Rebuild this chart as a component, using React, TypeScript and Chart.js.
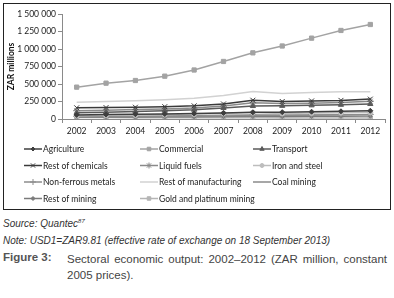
import React, { useEffect, useRef } from "react";
import { Chart, registerables } from "chart.js";
import { drawPoint } from "chart.js/helpers";

Chart.register(...registerables);

const years = ["2002", "2003", "2004", "2005", "2006", "2007", "2008", "2009", "2010", "2011", "2012"];

const agriculture = [58000, 63000, 68000, 72000, 78000, 86000, 95000, 98000, 104000, 110000, 118000];
const commercial = [455000, 512000, 550000, 612000, 700000, 822000, 945000, 1043000, 1155000, 1265000, 1350000];
const transport = [88000, 96000, 106000, 118000, 132000, 158000, 185000, 188000, 195000, 203000, 214000];
const restOfChemicals = [160000, 163000, 168000, 176000, 188000, 215000, 268000, 250000, 258000, 266000, 284000];
const liquidFuels = [118000, 124000, 134000, 144000, 158000, 185000, 232000, 220000, 226000, 236000, 254000];
const ironAndSteel = [48000, 53000, 58000, 64000, 72000, 82000, 92000, 80000, 86000, 90000, 95000];
const nonFerrousMetals = [38000, 40000, 43000, 46000, 50000, 55000, 60000, 57000, 60000, 63000, 66000];
const restOfManufacturing = [238000, 250000, 262000, 276000, 296000, 336000, 392000, 364000, 380000, 388000, 390000];
const coalMining = [30000, 32000, 34000, 36000, 39000, 43000, 50000, 52000, 54000, 56000, 60000];
const restOfMining = [24000, 26000, 27000, 29000, 31000, 33000, 36000, 34000, 36000, 38000, 40000];
const goldAndPlatinum = [20000, 20000, 19000, 19000, 18000, 18000, 17000, 16000, 16000, 16000, 15000];

const yTicks = [0, 250000, 500000, 750000, 1000000, 1250000, 1500000];

type S = { label: string; data: number[]; color: string; style: string | false; radius: number; width: number };

const series: S[] = [
  { label: "Agriculture", data: agriculture, color: "#3f3f3f", style: "rectRot", radius: 2.5, width: 1.5 },
  { label: "Commercial", data: commercial, color: "#a3a3a3", style: "rect", radius: 3, width: 1.5 },
  { label: "Transport", data: transport, color: "#5a5a5a", style: "triangle", radius: 3, width: 1.5 },
  { label: "Rest of chemicals", data: restOfChemicals, color: "#3a3a3a", style: "crossRot", radius: 3.5, width: 1.5 },
  { label: "Liquid fuels", data: liquidFuels, color: "#8a8a8a", style: "star", radius: 3.5, width: 1.5 },
  { label: "Iron and steel", data: ironAndSteel, color: "#bdbdbd", style: "circle", radius: 2.5, width: 1.5 },
  { label: "Non-ferrous metals", data: nonFerrousMetals, color: "#8c8c8c", style: "cross", radius: 3.5, width: 1.2 },
  { label: "Rest of manufacturing", data: restOfManufacturing, color: "#d2d2d2", style: false, radius: 0, width: 1.5 },
  { label: "Coal mining", data: coalMining, color: "#8a8a8a", style: false, radius: 0, width: 1.5 },
  { label: "Rest of mining", data: restOfMining, color: "#7a7a7a", style: "rectRot", radius: 2, width: 1.2 },
  { label: "Gold and platinum mining", data: goldAndPlatinum, color: "#b5b5b5", style: "rect", radius: 3, width: 1.5 },
];

const fmt = (v: number) => String(v).replace(/\B(?=(\d{3})+(?!\d))/g, " ");

const FONT = "Lato, 'Open Sans', sans-serif";

const legendPlugin = {
  id: "gridLegend",
  afterDraw(chart: any) {
    const ctx = chart.ctx;
    const colX = [20, 136, 249];
    const rowY = [145, 161.5, 178, 194.5];
    ctx.save();
    series.forEach((s, i) => {
      const c = i % 3;
      const r = Math.floor(i / 3);
      const x = colX[c];
      const y = rowY[r];
      ctx.strokeStyle = s.color;
      ctx.lineWidth = 1.5;
      ctx.beginPath();
      ctx.moveTo(x, y);
      ctx.lineTo(x + 18, y);
      ctx.stroke();
      if (s.style) {
        ctx.fillStyle = s.color;
        ctx.strokeStyle = s.color;
        ctx.lineWidth = 1;
        drawPoint(ctx, { pointStyle: s.style, radius: Math.max(2, s.radius - 0.5), rotation: 0, borderWidth: 1 } as any, x + 9, y);
      }
      ctx.fillStyle = "#222";
      ctx.font = "8.5px " + FONT;
      ctx.textBaseline = "middle";
      ctx.textAlign = "left";
      ctx.fillText(s.label, x + 19, y + 0.5);
    });
    ctx.restore();
  },
};

function ChartBox() {
  const ref = useRef<HTMLCanvasElement | null>(null);
  useEffect(() => {
    if (!ref.current) return;
    const chart = new Chart(ref.current, {
      type: "line",
      data: {
        labels: years,
        datasets: series.map((s) => ({
          label: s.label,
          data: s.data,
          borderColor: s.color,
          backgroundColor: s.color,
          borderWidth: s.width,
          pointStyle: s.style as any,
          pointRadius: s.radius,
          pointBorderWidth: 1,
          tension: 0,
        })),
      },
      options: {
        animation: false,
        responsive: false,
        maintainAspectRatio: false,
        layout: { padding: { left: 0, right: 4, top: 10, bottom: 70 } },
        plugins: { legend: { display: false }, tooltip: { enabled: false } },
        scales: {
          x: {
            offset: true,
            grid: { display: true, drawOnChartArea: false, drawTicks: true, tickLength: 4, offset: true, color: "#8a8a8a" },
            border: { display: true, color: "#8a8a8a" },
            ticks: { color: "#222", font: { family: FONT, size: 8.5 }, padding: 3, maxRotation: 0, autoSkip: false },
            afterFit: (scale: any) => { scale.height = 20; },
          },
          y: {
            min: 0,
            max: 1500000,
            afterBuildTicks: (scale: any) => { scale.ticks = yTicks.map((v) => ({ value: v })); },
            grid: { display: true, drawOnChartArea: false, drawTicks: true, tickLength: 4, color: "#8a8a8a" },
            border: { display: true, color: "#8a8a8a" },
            ticks: { color: "#222", font: { family: FONT, size: 8.5 }, padding: 2, callback: (v: any) => fmt(Number(v)) },
            title: { display: true, text: "ZAR millions", color: "#111", font: { family: FONT, size: 8.5, weight: "bold" }, padding: { top: 2, bottom: 0 } },
            afterFit: (scale: any) => { scale.width = 58; },
          },
        },
      },
      plugins: [legendPlugin],
    });
    return () => chart.destroy();
  }, []);
  return <canvas ref={ref} width={386} height={205} style={{ display: "block" }} />;
}

export default function App() {
  useEffect(() => {
    document.body.style.margin = "0";
    document.body.style.background = "#fff";
  }, []);
  const cap: React.CSSProperties = {
    position: "absolute",
    left: 3,
    fontFamily: "'Liberation Sans', Arial, sans-serif",
    color: "#333",
    whiteSpace: "nowrap",
  };
  return (
    <div style={{ position: "relative", width: 394, height: 298, background: "#fff" }}>
      <div style={{ position: "absolute", left: 3, top: 3, width: 386, height: 205, border: "1px solid #222" }}>
        <ChartBox />
      </div>
      <div style={{ ...cap, top: 218, fontSize: 10, fontStyle: "italic" }}>
        Source: Quantec<sup style={{ fontSize: 6 }}>87</sup>
      </div>
      <div style={{ ...cap, top: 235, fontSize: 10, fontStyle: "italic" }}>
        Note: USD1=ZAR9.81 (effective rate of exchange on 18 September 2013)
      </div>
      <div style={{ ...cap, top: 251, fontSize: 11.5, fontWeight: "bold", color: "#555" }}>Figure 3:</div>
      <div
        style={{
          ...cap,
          left: 67,
          top: 251,
          width: 320,
          fontSize: 11.5,
          whiteSpace: "normal",
          textAlign: "justify",
          textAlignLast: "left",
          lineHeight: "16px",
          color: "#444",
        }}
      >
        Sectoral economic output: 2002–2012 (ZAR million, constant 2005 prices).
      </div>
    </div>
  );
}
